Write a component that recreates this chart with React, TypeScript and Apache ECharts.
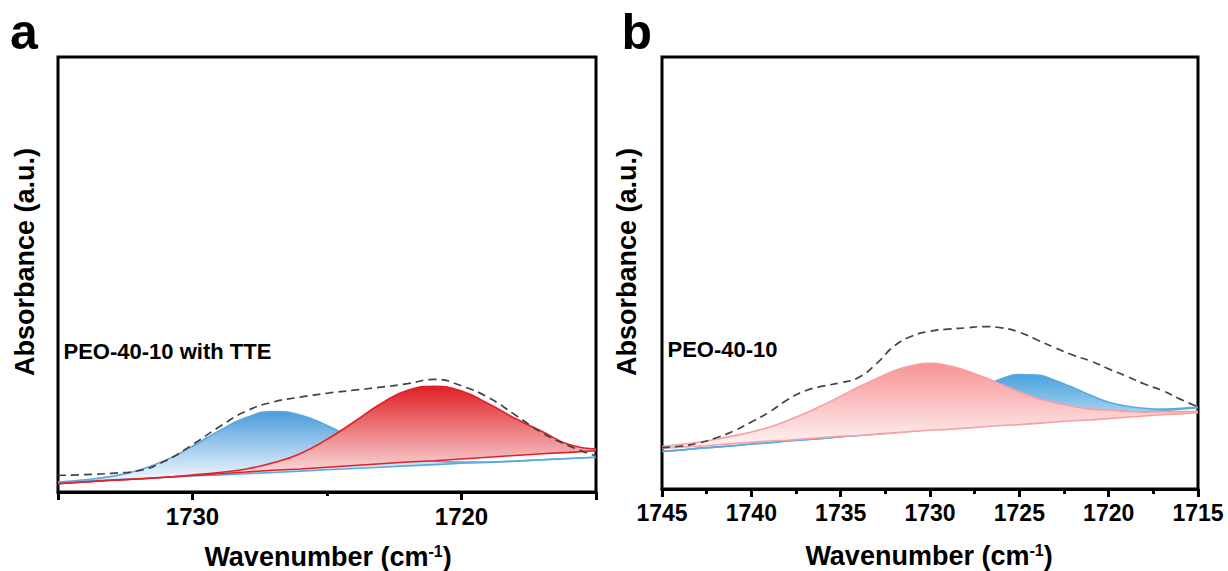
import React, { useEffect, useRef } from "react";
import * as echarts from "echarts";

// ---------- Panel a (PEO-40-10 with TTE) ----------
const wnA = [1735, 1734, 1733, 1732, 1731, 1730, 1729, 1728, 1727, 1726, 1725, 1724, 1723, 1722, 1721, 1720, 1719, 1718, 1717, 1716, 1715];
const blueBaseA = [2.2, 2.5, 2.8, 3.1, 3.4, 3.7, 3.9, 4.2, 4.5, 4.8, 5.1, 5.4, 5.7, 6.0, 6.3, 6.6, 6.8, 7.1, 7.4, 7.7, 8.0];
const bluePeakA = [0.1, 0.3, 0.8, 1.9, 3.9, 6.8, 10.2, 12.9, 14.0, 12.9, 10.2, 6.8, 3.9, 1.9, 0.8, 0.3, 0.1, 0, 0, 0, 0];
const redBaseA = [1.9, 2.3, 2.7, 3.0, 3.4, 3.8, 4.2, 4.6, 5.0, 5.3, 5.7, 6.1, 6.5, 6.9, 7.2, 7.6, 8.0, 8.4, 8.8, 9.1, 9.5];
const redPeakA = [0, 0, 0, 0, 0, 0.1, 0.3, 0.7, 1.7, 3.5, 6.4, 10.0, 13.8, 16.5, 17.1, 15.6, 12.3, 8.5, 5.1, 1.8, 0.4];
const envA = [3.8, 4.0, 4.3, 4.9, 7.2, 10.9, 15.0, 18.6, 20.7, 21.8, 22.7, 23.4, 24.1, 24.9, 25.9, 24.4, 21.7, 17.7, 13.6, 10.6, 8.3];
const labelTicksA = [1730, 1720];
const majorTicksA = [1735, 1730, 1720, 1715];
const minorTicksA = [1725];

// ---------- Panel b (PEO-40-10) ----------
const wnB = [1745, 1744, 1743, 1742, 1741, 1740, 1739, 1738, 1737, 1736, 1735, 1734, 1733, 1732, 1731, 1730, 1729, 1728, 1727, 1726, 1725, 1724, 1723, 1722, 1721, 1720, 1719, 1718, 1717, 1716, 1715];
const blueBaseB = [8.7, 9.0, 9.4, 9.7, 10.0, 10.4, 10.7, 11.1, 11.4, 11.7, 12.1, 12.4, 12.7, 13.1, 13.4, 13.8, 14.1, 14.4, 14.8, 15.1, 15.4, 15.8, 16.1, 16.5, 16.8, 17.1, 17.5, 17.8, 18.1, 18.5, 18.8];
const bluePeakB = [0, 0, 0, 0, 0, 0, 0, 0, 0, 0, 0, 0.1, 0.3, 0.8, 1.5, 2.8, 4.5, 6.6, 8.7, 10.4, 11.1, 10.6, 9.0, 7.0, 4.9, 3.0, 1.7, 0.9, 0.4, 0.2, 0.1];
const pinkBaseB = [9.4, 9.7, 9.9, 10.2, 10.5, 10.8, 11.1, 11.3, 11.6, 11.9, 12.2, 12.4, 12.7, 13.0, 13.3, 13.6, 13.8, 14.1, 14.4, 14.7, 14.9, 15.2, 15.5, 15.8, 16.0, 16.3, 16.6, 16.9, 17.2, 17.4, 17.7];
const pinkPeakB = [0.4, 0.6, 0.9, 1.3, 1.8, 2.4, 3.2, 4.5, 5.9, 7.5, 9.3, 11.2, 12.8, 14.4, 15.3, 15.5, 14.8, 13.3, 11.5, 9.5, 7.6, 5.8, 4.5, 3.3, 2.5, 2.0, 1.4, 0.9, 0.7, 0.5, 0.3];
const envB = [9.6, 9.9, 10.6, 11.8, 13.4, 15.5, 17.8, 20.6, 22.7, 23.8, 24.6, 25.8, 29.0, 33.1, 35.4, 36.5, 37.0, 37.3, 37.6, 37.3, 36.3, 34.5, 32.7, 31.0, 29.6, 27.8, 26.1, 24.3, 22.8, 20.8, 19.0];

const FONT = "'Liberation Sans', Arial, Helvetica, sans-serif";

const grad = (top: string, bottom: string) =>
  new echarts.graphic.LinearGradient(0, 0, 0, 1, [
    { offset: 0, color: top },
    { offset: 1, color: bottom },
  ]);

export default function App() {
  const ref = useRef<HTMLDivElement>(null);

  useEffect(() => {
    const chart = echarts.init(ref.current as HTMLDivElement, null, { renderer: "svg" });

    const base = { type: "line", showSymbol: false, symbol: "none", silent: true };
    const tickLine = { color: "#000", width: 3 };
    const labelStyle = (size: number, margin: number) => ({
      color: "#000",
      fontSize: size,
      fontWeight: "bold",
      fontFamily: FONT,
      margin,
      formatter: (v: number) => String(v),
    });
    const dash = { color: "#444444", width: 1.7, type: [8, 5] };

    const option: any = {
      animation: false,
      backgroundColor: "#fff",
      textStyle: { fontFamily: FONT },
      grid: [
        { left: 58, top: 57, width: 538, height: 435, show: true, borderColor: "#000", borderWidth: 3, backgroundColor: "transparent" },
        { left: 662, top: 57, width: 536, height: 432, show: true, borderColor: "#000", borderWidth: 3, backgroundColor: "transparent" },
      ],
      xAxis: [
        { type: "category", gridIndex: 0, data: wnA.map(String), boundaryGap: false, show: false },
        {
          type: "value", gridIndex: 0, min: 1715, max: 1735, inverse: true, position: "bottom",
          axisLine: { show: true, lineStyle: tickLine },
          axisTick: { show: true, customValues: majorTicksA, length: 8, lineStyle: tickLine },
          axisLabel: { show: true, customValues: labelTicksA, ...labelStyle(24, 12) },
          splitLine: { show: false },
        },
        {
          type: "value", gridIndex: 0, min: 1715, max: 1735, inverse: true, position: "bottom",
          axisLine: { show: false },
          axisTick: { show: true, customValues: minorTicksA, length: 4, lineStyle: tickLine },
          axisLabel: { show: false },
          splitLine: { show: false },
        },
        { type: "category", gridIndex: 1, data: wnB.map(String), boundaryGap: false, show: false },
        {
          type: "value", gridIndex: 1, min: 1715, max: 1745, interval: 5, inverse: true, position: "bottom",
          axisLine: { show: true, lineStyle: tickLine },
          axisTick: { show: true, length: 8, lineStyle: tickLine },
          minorTick: { show: true, splitNumber: 2, length: 5, lineStyle: tickLine },
          axisLabel: { show: true, ...labelStyle(23, 12), showMinLabel: true, showMaxLabel: true },
          splitLine: { show: false },
          minorSplitLine: { show: false },
        },
      ],
      yAxis: [
        { type: "value", gridIndex: 0, min: 0, max: 100, show: false, splitLine: { show: false } },
        { type: "value", gridIndex: 1, min: 0, max: 100, show: false, splitLine: { show: false } },
      ],
      series: [
        // panel a
        { ...base, name: "blue baseline a", xAxisIndex: 0, yAxisIndex: 0, stack: "blueA", data: blueBaseA, lineStyle: { color: "#5AA9E1", width: 1.6 }, z: 3 },
        { ...base, name: "blue peak a", xAxisIndex: 0, yAxisIndex: 0, stack: "blueA", smooth: true, data: bluePeakA, lineStyle: { color: "#5AA9E1", width: 1.6 }, areaStyle: { color: grad("#4A9CDB", "#F7FAFE"), opacity: 1 }, z: 2 },
        { ...base, name: "red baseline a", xAxisIndex: 0, yAxisIndex: 0, stack: "redA", data: redBaseA, lineStyle: { color: "#E3202A", width: 1.6 }, z: 5 },
        { ...base, name: "red peak a", xAxisIndex: 0, yAxisIndex: 0, stack: "redA", smooth: true, data: redPeakA, lineStyle: { color: "#E3202A", width: 1.6 }, areaStyle: { color: grad("#DF1F26", "#FCF0F0"), opacity: 1 }, z: 4 },
        { ...base, name: "envelope a", xAxisIndex: 0, yAxisIndex: 0, smooth: true, data: envA, lineStyle: dash, z: 6 },
        // panel b
        { ...base, name: "blue baseline b", xAxisIndex: 3, yAxisIndex: 1, stack: "blueB", data: blueBaseB, lineStyle: { color: "#5AA9E1", width: 1.6 }, z: 3 },
        { ...base, name: "blue peak b", xAxisIndex: 3, yAxisIndex: 1, stack: "blueB", smooth: true, data: bluePeakB, lineStyle: { color: "#5AA9E1", width: 1.6 }, areaStyle: { color: grad("#4AA2DE", "#FFFFFF"), opacity: 1 }, z: 2 },
        { ...base, name: "pink baseline b", xAxisIndex: 3, yAxisIndex: 1, stack: "pinkB", data: pinkBaseB, lineStyle: { color: "#F6A0A1", width: 1.6 }, z: 5 },
        { ...base, name: "pink peak b", xAxisIndex: 3, yAxisIndex: 1, stack: "pinkB", smooth: true, data: pinkPeakB, lineStyle: { color: "#F6A0A1", width: 1.6 }, areaStyle: { color: grad("#F79496", "#FFF6F6"), opacity: 1 }, z: 4 },
        { ...base, name: "envelope b", xAxisIndex: 3, yAxisIndex: 1, smooth: true, data: envB, lineStyle: dash, z: 6 },
      ],
      graphic: [
        { type: "text", x: 10, y: 31.7, style: { text: "a", fontSize: 50, fontWeight: "bold", fontFamily: FONT, fill: "#000", align: "left", verticalAlign: "middle" } },
        { type: "text", x: 621.5, y: 31.7, style: { text: "b", fontSize: 50, fontWeight: "bold", fontFamily: FONT, fill: "#000", align: "left", verticalAlign: "middle" } },
        { type: "text", x: 24.5, y: 262, rotation: Math.PI / 2, style: { text: "Absorbance (a.u.)", fontSize: 27, fontWeight: "bold", fontFamily: FONT, fill: "#000", align: "center", verticalAlign: "middle" } },
        { type: "text", x: 626.5, y: 262, rotation: Math.PI / 2, style: { text: "Absorbance (a.u.)", fontSize: 27, fontWeight: "bold", fontFamily: FONT, fill: "#000", align: "center", verticalAlign: "middle" } },
        { type: "text", x: 63.5, y: 351, style: { text: "PEO-40-10 with TTE", fontSize: 22, fontWeight: "bold", fontFamily: FONT, fill: "#000", align: "left", verticalAlign: "middle" } },
        { type: "text", x: 667.5, y: 349.6, style: { text: "PEO-40-10", fontSize: 22, fontWeight: "bold", fontFamily: FONT, fill: "#000", align: "left", verticalAlign: "middle" } },
        {
          type: "text", x: 328, y: 557.3,
          style: {
            text: "Wavenumber (cm{sup|-1})", fontSize: 27, fontWeight: "bold", fontFamily: FONT, fill: "#000", align: "center", verticalAlign: "middle",
            rich: { sup: { fontSize: 16, fontWeight: "bold", fontFamily: FONT, fill: "#000", verticalAlign: "top" } },
          },
        },
        {
          type: "text", x: 929, y: 555.6,
          style: {
            text: "Wavenumber (cm{sup|-1})", fontSize: 27, fontWeight: "bold", fontFamily: FONT, fill: "#000", align: "center", verticalAlign: "middle",
            rich: { sup: { fontSize: 16, fontWeight: "bold", fontFamily: FONT, fill: "#000", verticalAlign: "top" } },
          },
        },
      ],
    };

    chart.setOption(option);
    return () => chart.dispose();
  }, []);

  return (
    <div
      ref={ref}
      style={{ position: "fixed", left: 0, top: 0, width: 1228, height: 571, background: "#fff" }}
    />
  );
}
